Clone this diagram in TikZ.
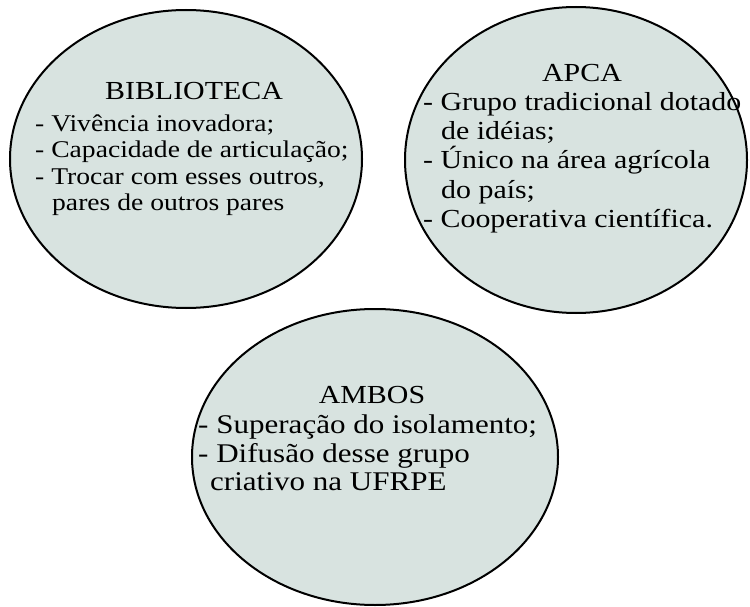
\documentclass[tikz,border=0pt]{standalone}
\usepackage{fontspec}
\setmainfont{Liberation Serif}[FakeStretch=1.15]
\usetikzlibrary{shapes.geometric}
\definecolor{ellfill}{HTML}{D8E3E0}
\begin{document}
\begin{tikzpicture}[x=1pt,y=-1pt,
  bubble/.style={ellipse, draw=black, line width=2pt, fill=ellfill, inner sep=0pt},
  ttl/.style={anchor=base, font=\fontsize{26}{26}\selectfont, inner sep=0pt},
  txtline/.style={anchor=base west, font=\fontsize{24}{26}\selectfont, inner sep=0pt},
  bigline/.style={txtline, font=\fontsize{26}{29}\selectfont}]
\useasboundingbox (0,0) rectangle (750,607);
% ellipses
\node[bubble, minimum width=352, minimum height=298] (bib) at (186,159) {};
\node[bubble, minimum width=342, minimum height=306] (apca) at (576,160) {};
\node[bubble, minimum width=366, minimum height=296] (ambos) at (375,457) {};
% BIBLIOTECA
\node[ttl] (bibT) at (194,100) {BIBLIOTECA};
\node[txtline] (bib1) at (35,132) {- Vivência inovadora;};
\node[txtline] (bib2) at (35,158) {- Capacidade de articulação;};
\node[txtline] (bib3) at (35,185) {- Trocar com esses outros,};
\node[txtline] (bib4) at (35,210) {\hspace{17pt}pares de outros pares};
% APCA
\node[ttl] (apcaT) at (582,82) {APCA};
\node[bigline] (apca1) at (423,111) {- Grupo tradicional dotado};
\node[bigline] (apca2) at (423,140) {\hspace{18pt}de idéias;};
\node[bigline] (apca3) at (423,169) {- Único na área agrícola};
\node[bigline] (apca4) at (423,198) {\hspace{18pt}do país;};
\node[bigline] (apca5) at (423,227) {- Cooperativa científica.};
% AMBOS
\node[ttl] (ambosT) at (372,403) {AMBOS};
\node[bigline, font=\fontsize{27}{29}\selectfont] (ambos1) at (198,433) {- Superação do isolamento;};
\node[bigline, font=\fontsize{27}{29}\selectfont] (ambos2) at (198,462) {- Difusão desse grupo};
\node[bigline, font=\fontsize{27}{29}\selectfont] (ambos3) at (198,490) {\hspace{12pt}criativo na UFRPE};
\end{tikzpicture}
\end{document}
